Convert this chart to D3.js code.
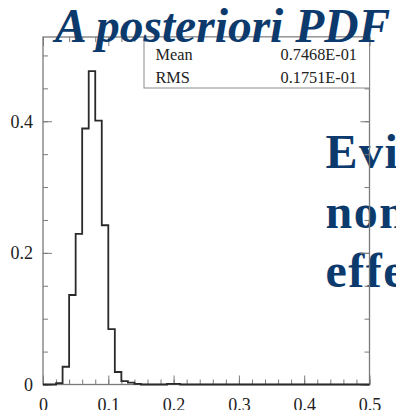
<!DOCTYPE html>
<html>
<head>
<meta charset="utf-8">
<script src="https://cdn.jsdelivr.net/npm/d3@7"></script>
<style>
  html, body { margin: 0; padding: 0; background: #fff; overflow: hidden; }
  svg { display: block; }
</style>
</head>
<body>
<svg id="chart" width="396" height="410"></svg>
<script>
// ---- data ----
const binEdges = d3.range(0, 51).map(i => +(i * 0.01).toFixed(2)); // 0 .. 0.5
const binValues = [
  0, 0, 0.002, 0.027, 0.136, 0.229, 0.389, 0.476, 0.401, 0.242,
  0.084, 0.019, 0.005, 0.003, 0.0008, 0, 0, 0, 0, 0.001,
  0.001, 0, 0, 0, 0, 0, 0, 0, 0, 0,
  0, 0, 0, 0, 0, 0, 0, 0, 0, 0,
  0, 0, 0, 0, 0, 0, 0, 0, 0, 0
];
const xMajorTicks = [0, 0.1, 0.2, 0.3, 0.4, 0.5];
const xTickLabels = ["0", "0.1", "0.2", "0.3", "0.4", "0.5"];
const xMinorTicks = d3.range(0, 26).map(i => +(i * 0.02).toFixed(2));
const yMajorTicks = [0, 0.2, 0.4];
const yTickLabels = ["0", "0.2", "0.4"];
const yMinorTicks = d3.range(0, 11).map(i => +(i * 0.05).toFixed(2));
const statNames = ["Mean", "RMS"];
const statValues = ["0.7468E-01", "0.1751E-01"];
const titleText = "A posteriori PDF";
const sideLines = ["Evi", "non", "effe"];

// ---- layout ----
const svg = d3.select("#chart");
const L = 43, R = 369.5, T = 37, B = 384.5;
const x = d3.scaleLinear().domain([0, 0.5]).range([L, R]);
const y = d3.scaleLinear().domain([0, 0.528]).range([B, T]);
const axisColor = "#7a7a7a";
const serif = "'Liberation Serif', 'Times New Roman', serif";
const navy = "#0d3a6c";

// side text (behind frame)
const side = svg.append("g").attr("font-family", serif).attr("font-weight", "bold")
  .attr("font-size", 48).attr("letter-spacing", 1.5).attr("fill", navy);
side.selectAll("text").data(sideLines).join("text")
  .attr("x", 325.5).attr("y", (d, i) => 168 + i * 59.5).text(d => d);

// axes (ticks inward)
function styleAxis(g) {
  g.select(".domain").remove();
  g.selectAll(".tick line").attr("stroke", axisColor).attr("stroke-width", 1);
  g.selectAll(".tick text").attr("font-family", serif).attr("font-size", 18).attr("fill", "#222");
}
// bottom minor
svg.append("g").attr("transform", `translate(0,${B})`)
  .call(d3.axisBottom(x).tickValues(xMinorTicks).tickSize(-5).tickFormat(""))
  .call(styleAxis);
// bottom major with labels
svg.append("g").attr("transform", `translate(0,${B})`)
  .call(d3.axisBottom(x).tickValues(xMajorTicks).tickSize(-9).tickPadding(16)
    .tickFormat((d, i) => xTickLabels[i]))
  .call(styleAxis)
  .call(g => g.selectAll(".tick text").attr("dy", "0.71em").attr("y", 13.5));
// top minor/major
svg.append("g").attr("transform", `translate(0,${T})`)
  .call(d3.axisTop(x).tickValues(xMinorTicks).tickSize(-5).tickFormat(""))
  .call(styleAxis);
svg.append("g").attr("transform", `translate(0,${T})`)
  .call(d3.axisTop(x).tickValues(xMajorTicks).tickSize(-9).tickFormat(""))
  .call(styleAxis);
// left
svg.append("g").attr("transform", `translate(${L},0)`)
  .call(d3.axisLeft(y).tickValues(yMinorTicks).tickSize(-5).tickFormat(""))
  .call(styleAxis);
svg.append("g").attr("transform", `translate(${L},0)`)
  .call(d3.axisLeft(y).tickValues(yMajorTicks).tickSize(-9).tickPadding(19)
    .tickFormat((d, i) => yTickLabels[i]))
  .call(styleAxis)
  .call(g => g.selectAll(".tick text").attr("x", -10));
// right
svg.append("g").attr("transform", `translate(${R},0)`)
  .call(d3.axisRight(y).tickValues(yMinorTicks).tickSize(-5).tickFormat(""))
  .call(styleAxis);
svg.append("g").attr("transform", `translate(${R},0)`)
  .call(d3.axisRight(y).tickValues(yMajorTicks).tickSize(-9).tickFormat(""))
  .call(styleAxis);

// frame
svg.append("rect").attr("x", L).attr("y", T).attr("width", R - L).attr("height", B - T)
  .attr("fill", "none").attr("stroke", axisColor).attr("stroke-width", 1.3);

// histogram step line
const pts = [];
binValues.forEach((v, i) => {
  pts.push([x(binEdges[i]), y(v)]);
  pts.push([x(binEdges[i + 1]), y(v)]);
});
svg.append("path").attr("d", d3.line()(pts))
  .attr("fill", "none").attr("stroke", "#2a2a2a").attr("stroke-width", 1.8)
  .attr("stroke-linejoin", "miter");

// stats box
const box = svg.append("g");
box.append("rect").attr("x", 144).attr("y", T).attr("width", R - 144).attr("height", 51)
  .attr("fill", "#fff").attr("stroke", "#8a8a8a").attr("stroke-width", 1);
const st = box.append("g").attr("font-family", serif).attr("font-size", 16.3).attr("fill", "#222");
st.selectAll("text.n").data(statNames).join("text").attr("class", "n")
  .attr("x", 155.5).attr("y", (d, i) => 60 + i * 22.5).text(d => d);
st.selectAll("text.v").data(statValues).join("text").attr("class", "v")
  .attr("x", 357).attr("text-anchor", "end").attr("y", (d, i) => 60 + i * 22.5).text(d => d);

// title
svg.append("text").attr("x", 55).attr("y", 41.5)
  .attr("font-family", serif).attr("font-weight", "bold").attr("font-style", "italic")
  .attr("font-size", 47.5).attr("fill", navy).text(titleText);
</script>
</body>
</html>
